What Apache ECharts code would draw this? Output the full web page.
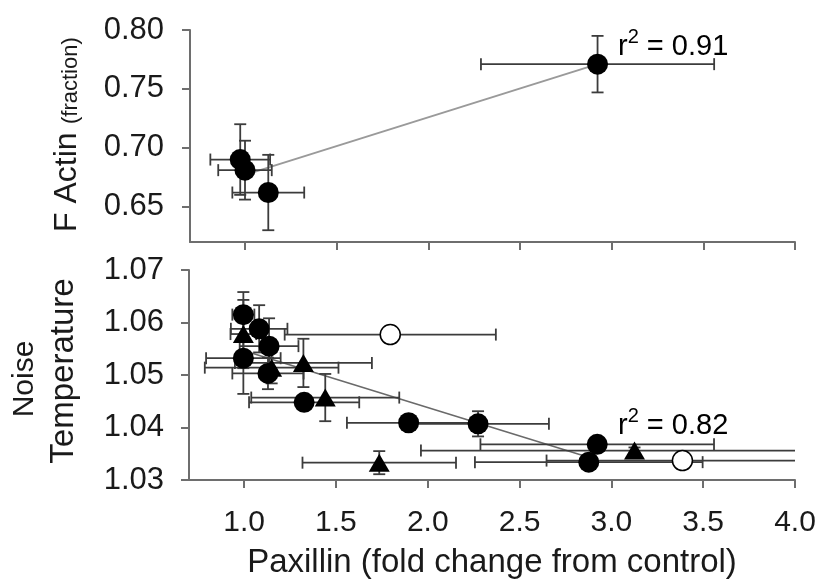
<!DOCTYPE html>
<html>
<head>
<meta charset="utf-8">
<script src="https://cdn.jsdelivr.net/npm/echarts@6/dist/echarts.min.js"></script>
<style>
  html, body { margin: 0; padding: 0; background: #fff; }
  #chart { width: 820px; height: 580px; }
</style>
</head>
<body>
<div id="chart"></div>
<script>
// Paxillin fold change (x) shared by both panels
const xTicks = [1.0, 1.5, 2.0, 2.5, 3.0, 3.5, 4.0];

// Upper panel: F-actin fraction
const actinTicks = [0.65, 0.70, 0.75, 0.80];
const actinX    = [0.974, 1.000, 1.127, 2.923];
const actinY    = [0.690, 0.681, 0.662, 0.771];
const actinXErr = [0.163, 0.146, 0.196, 0.636];
const actinYErr = [0.030, 0.025, 0.032, 0.024];
const actinFitX = [1.00, 2.923];
const actinFitY = [0.677, 0.771];
const actinR2 = '0.91';

// Lower panel: noise temperature, filled circles
const circleX    = [0.996, 1.082, 1.136, 0.996, 1.130, 1.327, 1.896, 2.274, 2.923, 2.877];
const circleY    = [1.0615, 1.0588, 1.0555, 1.0532, 1.0503, 1.0448, 1.0409, 1.0407, 1.0368, 1.0334];
const circleXErr = [0.060, 0.154, 0.160, 0.203, 0.194, 0.300, 0.336, 0.386, 0.636, 0.620];
const circleYErr = [0.0043, 0.0045, 0.0053, 0.0068, 0.0030, 0.0010, 0.0010, 0.0024, 0.0010, 0.0010];

// Lower panel: triangles
const triX    = [0.996, 1.150, 1.323, 1.442, 1.736, 3.126];
const triY    = [1.0578, 1.0514, 1.0523, 1.0457, 1.0333, 1.0356];
const triXErr = [0.070, 0.364, 0.373, 0.403, 0.418, 1.163];
const triYErr = [0.0065, 0.0030, 0.0046, 0.0045, 0.0022, 0.0006];

// Lower panel: open circles
const openX    = [1.796, 3.387];
const openY    = [1.0577, 1.0337];
const openXErr = [0.575, 0.740];
const openYErr = [0.0005, 0.0005];

// Lower panel regression line
const noiseFitX = [1.00, 2.88];
const noiseFitY = [1.0546, 1.0343];
const noiseR2 = '0.82';

const FONT = '"Liberation Sans", Arial, sans-serif';
const TEXT = '#1a1a1a';
const AXIS = '#6e6e6e';
const BAR = '#3c3c3c';

function rows(xs, ys, xe, ye) {
  return xs.map((x, i) => [x, ys[i], xe[i], ye[i]]);
}
function pairs(xs, ys) {
  return xs.map((x, i) => [x, ys[i]]);
}

// whisker with end caps in both directions
function renderErrorBars(params, api) {
  const x = api.value(0), y = api.value(1);
  const xe = api.value(2), ye = api.value(3);
  const cap = 6;
  const l = api.coord([x - xe, y]);
  const r = api.coord([x + xe, y]);
  const t = api.coord([x, y + ye]);
  const b = api.coord([x, y - ye]);
  const style = { stroke: BAR, lineWidth: 1.8, fill: null };
  const seg = (x1, y1, x2, y2) => ({ type: 'line', shape: { x1, y1, x2, y2 }, style });
  return {
    type: 'group',
    children: [
      seg(l[0], l[1], r[0], r[1]),
      seg(l[0], l[1] - cap, l[0], l[1] + cap),
      seg(r[0], r[1] - cap, r[0], r[1] + cap),
      seg(t[0], t[1], b[0], b[1]),
      seg(t[0] - cap, t[1], t[0] + cap, t[1]),
      seg(b[0] - cap, b[1], b[0] + cap, b[1])
    ]
  };
}

function errorSeries(data, axisIndex) {
  return {
    type: 'custom',
    xAxisIndex: axisIndex, yAxisIndex: axisIndex,
    renderItem: renderErrorBars,
    data: data,
    clip: true,
    z: 2,
    silent: true
  };
}

function r2Label(x, y, value) {
  return {
    type: 'text', x: x, y: y,
    style: {
      text: '{r|r}{s|2}{n| = ' + value + '}', align: 'left', verticalAlign: 'middle',
      rich: {
        r: { fontFamily: FONT, fontSize: 29, color: TEXT, lineHeight: 34, verticalAlign: 'bottom' },
        s: { fontFamily: FONT, fontSize: 20, color: TEXT, lineHeight: 20, verticalAlign: 'top' },
        n: { fontFamily: FONT, fontSize: 29, color: TEXT, lineHeight: 34, verticalAlign: 'bottom' }
      }
    }
  };
}

const xAxisCommon = {
  type: 'value',
  min: 0.7, max: 4.0,
  splitLine: { show: false },
  axisLine: { show: true, onZero: false, lineStyle: { color: AXIS, width: 2 } },
  axisTick: { show: true, customValues: xTicks, length: 8, lineStyle: { color: AXIS, width: 2 } }
};

const chart = echarts.init(document.getElementById('chart'), null, { renderer: 'canvas' });

chart.setOption({
  animation: false,
  backgroundColor: '#fff',
  grid: [
    { left: 190, right: 25, top: 30, height: 212 },
    { left: 189, right: 25, top: 270, height: 211 }
  ],
  xAxis: [
    Object.assign({}, xAxisCommon, {
      gridIndex: 0,
      axisLabel: { show: false }
    }),
    Object.assign({}, xAxisCommon, {
      gridIndex: 1,
      axisLabel: {
        customValues: xTicks, margin: 28,
        fontFamily: FONT, fontSize: 30, color: TEXT,
        formatter: v => v.toFixed(1)
      },
      name: 'Paxillin (fold change from control)',
      nameLocation: 'middle',
      nameGap: 66,
      nameTextStyle: { fontFamily: FONT, fontSize: 33, color: TEXT }
    })
  ],
  yAxis: [
    {
      type: 'value', gridIndex: 0,
      min: 0.62, max: 0.80,
      splitLine: { show: false },
      axisLine: { show: true, onZero: false, lineStyle: { color: AXIS, width: 2 } },
      axisTick: { show: true, customValues: actinTicks, length: 8, lineStyle: { color: AXIS, width: 2 } },
      axisLabel: {
        customValues: actinTicks, margin: 26,
        fontFamily: FONT, fontSize: 31, color: TEXT,
        formatter: v => v.toFixed(2)
      }
    },
    {
      type: 'value', gridIndex: 1,
      min: 1.03, max: 1.07, interval: 0.01,
      splitLine: { show: false },
      axisLine: { show: true, onZero: false, lineStyle: { color: AXIS, width: 2 } },
      axisTick: { show: true, length: 8, lineStyle: { color: AXIS, width: 2 } },
      axisLabel: {
        margin: 25,
        fontFamily: FONT, fontSize: 31, color: TEXT,
        formatter: v => v.toFixed(2)
      }
    }
  ],
  graphic: [
    { type: 'text', x: 67, y: 232, rotation: Math.PI / 2,
      style: { text: 'F Actin', font: '32px ' + FONT, fill: TEXT, align: 'left', verticalAlign: 'middle' } },
    { type: 'text', x: 71, y: 124, rotation: Math.PI / 2,
      style: { text: '(fraction)', font: '22px ' + FONT, fill: TEXT, align: 'left', verticalAlign: 'middle' } },
    { type: 'text', x: 25, y: 379, rotation: Math.PI / 2,
      style: { text: 'Noise', font: '30px ' + FONT, fill: TEXT, align: 'center', verticalAlign: 'middle' } },
    { type: 'text', x: 64, y: 371, rotation: Math.PI / 2,
      style: { text: 'Temperature', font: '33px ' + FONT, fill: TEXT, align: 'center', verticalAlign: 'middle' } },
    r2Label(618, 44, actinR2),
    r2Label(618, 423, noiseR2)
  ],
  series: [
    // upper panel
    {
      type: 'line', xAxisIndex: 0, yAxisIndex: 0,
      data: pairs(actinFitX, actinFitY),
      symbol: 'none', silent: true, z: 1,
      lineStyle: { color: '#9a9a9a', width: 2 }
    },
    errorSeries(rows(actinX, actinY, actinXErr, actinYErr), 0),
    {
      type: 'scatter', xAxisIndex: 0, yAxisIndex: 0,
      data: pairs(actinX, actinY),
      symbol: 'circle', symbolSize: 21, z: 3,
      itemStyle: { color: '#000', opacity: 1 }
    },
    // lower panel
    {
      type: 'line', xAxisIndex: 1, yAxisIndex: 1,
      data: pairs(noiseFitX, noiseFitY),
      symbol: 'none', silent: true, z: 1,
      lineStyle: { color: '#6a6a6a', width: 1.6 }
    },
    errorSeries(rows(circleX, circleY, circleXErr, circleYErr), 1),
    errorSeries(rows(triX, triY, triXErr, triYErr), 1),
    errorSeries(rows(openX, openY, openXErr, openYErr), 1),
    {
      type: 'scatter', xAxisIndex: 1, yAxisIndex: 1,
      data: pairs(triX, triY),
      symbol: 'triangle', symbolSize: [21, 18], z: 3,
      itemStyle: { color: '#000', opacity: 1 }
    },
    {
      type: 'scatter', xAxisIndex: 1, yAxisIndex: 1,
      data: pairs(circleX, circleY),
      symbol: 'circle', symbolSize: 21, z: 4,
      itemStyle: { color: '#000', opacity: 1 }
    },
    {
      type: 'scatter', xAxisIndex: 1, yAxisIndex: 1,
      data: pairs(openX, openY),
      symbol: 'circle', symbolSize: 20, z: 4,
      itemStyle: { color: '#fff', borderColor: '#000', borderWidth: 1.5, opacity: 1 }
    }
  ]
});
</script>
</body>
</html>
